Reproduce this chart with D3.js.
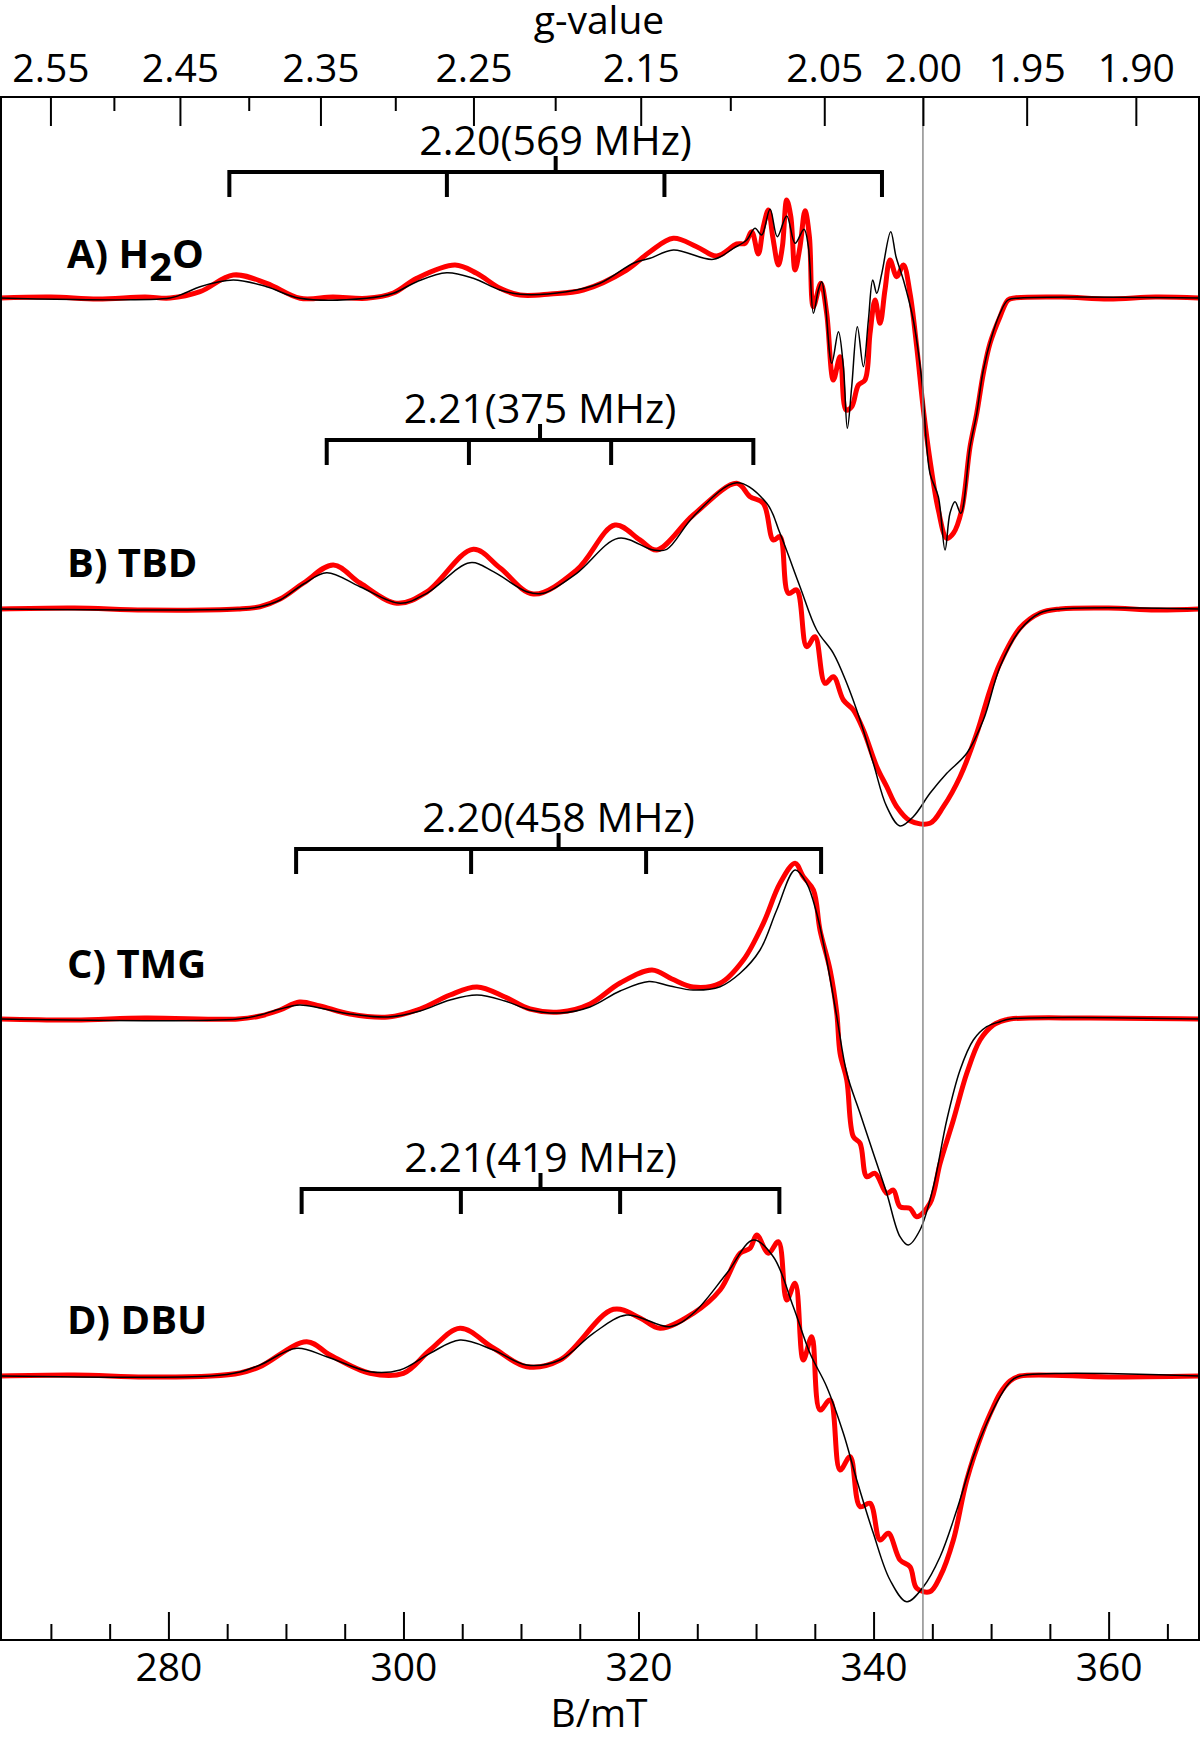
<!DOCTYPE html>
<html>
<head>
<meta charset="utf-8">
<script src="https://cdn.jsdelivr.net/npm/d3@7"></script>
<style>
  body { margin: 0; background: #fff; }
  svg { display: block; font-family: 'Open Sans', 'Noto Sans', sans-serif; }
</style>
</head>
<body>
<svg id="chart" width="1200" height="1739"></svg>
<script>
// field axis (mT) and g-value axis
const bRange = [265.67, 367.69]
const gConst = 688.4 // g * B (mT) at the used microwave frequency
const bMajor = [280, 300, 320, 340, 360]
const bMinor = [270, 275, 285, 290, 295, 305, 310, 315, 325, 330, 335, 345, 350, 355, 365]
const gMajor = [2.55, 2.45, 2.35, 2.25, 2.15, 2.05, 2.0, 1.95, 1.9]
const gMinor = [2.5, 2.4, 2.3, 2.2, 2.1]
const gMarker = 2.0

// panel names and hyperfine brackets
const panelNames = ['A', 'B', 'C', 'D']
const bases = ['H2O', 'TBD', 'TMG', 'DBU']
const gPar = ['2.20', '2.21', '2.20', '2.21']
const aPar = [569, 375, 458, 419] // MHz
const bracketCenter = [312.95, 311.62, 313.2, 311.66] // mT
const bracketSplit = [18.51, 12.1, 14.89, 13.55] // mT

// spectra: [B (mT), intensity (a.u.)], exp = red, sim = black
const h2oExp = [[265.67,0],[270,1],[274,-1],[278,1],[280.14,0],[282.69,6.3],[285.52,23],[288.36,14.7],[291.2,-0.3],[294,1],[296.87,-0.3],[299.14,5],[301.13,19.7],[304.39,33],[306.23,24.7],[308.22,9.7],[309.92,3],[312.5,4],[315.3,8],[318.99,28],[320.98,46.3],[322.96,59.7],[324.95,51.3],[326.65,42],[328.36,54],[329.06,54.7],[329.63,66.3],[330.19,44],[330.62,71.3],[331.05,88],[331.42,61.3],[331.9,33],[332.24,51.3],[332.61,98],[332.96,81.3],[333.32,28],[333.74,51.3],[334.17,87.3],[334.54,61.3],[334.88,-8.7],[335.51,14.7],[336.01,-15.3],[336.58,-82],[337.15,-58.7],[337.66,-112],[338.14,-108.7],[338.71,-87],[339.27,-82],[339.7,-35.3],[340.13,-2],[340.55,-25.3],[340.97,8],[341.4,38],[341.97,21.3],[342.54,33],[343.1,4.7],[343.67,-48.7],[344.24,-112],[344.8,-162],[345.51,-212],[346.23,-240.3],[346.79,-235.3],[347.5,-212],[348.21,-148.7],[348.78,-115.3],[349.34,-75.3],[349.91,-45.3],[350.76,-18.7],[351.44,-2],[352,0],[356,1],[360,-1],[364,1],[367.69,0]]
const h2oSim = [[265.67,0],[280.14,0],[281.41,5],[282.69,11.3],[285.52,18],[288.36,11.3],[291.2,-0.3],[296.87,-0.3],[299.14,4.7],[301.13,16.3],[303.68,25.3],[305.94,19.7],[308.22,8],[309.92,3.7],[313.89,6.3],[316.72,14.7],[319.56,34.7],[320.98,39.7],[322.96,48],[326.37,38.7],[328.07,49.7],[329.21,58],[329.91,69.7],[330.48,63],[331.19,88.7],[331.81,61.3],[332.61,82],[333.32,54.7],[334.08,68.7],[334.45,51.3],[334.88,-15.3],[335.3,8],[335.59,16.3],[335.87,-2],[336.44,-65.3],[337.01,-33.7],[337.43,-68.7],[337.77,-130.3],[338.14,-88.7],[338.62,-28.7],[339.13,-68.7],[339.56,-22],[339.93,18],[340.27,4.7],[340.7,24.7],[341.46,66.3],[341.91,41.3],[342.54,18],[343.38,-22],[344.1,-82],[344.8,-175.3],[345.51,-198.7],[346.08,-252],[346.5,-215.3],[346.93,-203.7],[347.42,-215.3],[348.21,-148.7],[348.78,-115.3],[349.34,-72],[350.05,-38.7],[350.76,-15.3],[351.44,-2],[352.46,0],[367.69,0]]

const tbdExp = [[265.67,0],[272,1],[278,-1],[285.92,0],[287.79,2.3],[289.5,10],[291.5,26],[294.03,44],[296.3,26],[299.43,5.7],[301.98,17],[305.94,59.7],[308.22,41],[311.05,15],[314.74,39],[318,84],[320.13,69],[321.55,59],[324.66,94],[328.36,125.7],[329.49,112.3],[330.62,105.7],[331.47,69],[332.04,72.3],[332.75,15.7],[333.46,19],[334.31,-37.7],[335.02,-27.7],[335.87,-74.3],[336.58,-67.7],[337.43,-91],[338.28,-101],[339.13,-121],[340.27,-157.7],[341.12,-177.7],[341.97,-197.7],[343.1,-211.7],[344.8,-214.3],[345.94,-197.7],[347.36,-167.7],[348.78,-124.3],[349.91,-81],[350.76,-54.3],[352.46,-19],[354.16,-4],[355.87,0],[360,1],[364,-1],[367.69,0]]
const tbdSim = [[265.67,0],[285.92,0],[287.79,2.3],[289.5,9],[291.5,25],[293.47,36.3],[296.3,22.3],[299.71,5.7],[301.98,15.7],[305.66,46.3],[307.65,37.3],[310.49,17.3],[311.88,15.7],[314.74,35.7],[318.28,70.7],[321.26,59],[322.4,59.7],[324.66,92.3],[328.36,126.3],[330.91,105.7],[332.04,75.7],[333.74,22.3],[335.16,-21],[336.58,-44.3],[337.72,-74.3],[338.85,-111],[339.98,-154.3],[341.12,-197.7],[342.25,-217],[343.38,-207.7],[344.8,-184.3],[346.23,-164.3],[347.93,-144.3],[349.34,-111],[350.76,-57.7],[352.46,-21],[354.16,-4],[355.87,0],[367.69,0]]

const tmgExp = [[265.67,0],[272,-1],[278,1],[285.92,0],[287.79,3],[289.5,9],[291.15,17],[292.9,13],[295.45,5],[298.69,2],[301.41,10],[303.96,24],[306.26,32],[308.64,22],[310.77,10],[313.32,7],[315.87,15],[318.43,36],[321.15,49],[322.85,40],[324.64,32],[326.94,35.7],[328.92,59],[330.62,95.7],[332.04,135.7],[333.32,155.7],[334.02,142.3],[334.88,129],[335.44,89],[336.3,49],[336.87,5.7],[337.15,-34.3],[337.72,-61],[338.28,-117.7],[338.85,-124.3],[339.42,-157.7],[340.13,-154.3],[341.12,-174.3],[341.68,-171],[342.25,-187.7],[343.1,-189.3],[343.67,-197.7],[344.8,-184.3],[345.66,-144.3],[346.79,-101],[347.93,-54.3],[349.06,-21],[350.19,-6],[350.76,-2.7],[351.61,0],[358,1],[367.69,0]]
const tmgSim = [[265.67,0],[285.92,0],[287.79,4],[289.5,10],[291.15,14],[292.9,11],[295.45,5],[298.69,2],[301.41,8],[303.96,19],[306.26,24],[308.64,18],[310.77,9],[313.32,6],[315.87,12],[318.43,28],[320.89,37.5],[322.68,33],[324.64,29],[326.94,32.3],[328.64,45.7],[330.34,69],[331.76,109],[333.32,149],[334.31,135.7],[335.16,105.7],[336.01,59],[336.87,2.3],[337.72,-54.3],[338.85,-94.3],[339.98,-134.3],[341.12,-174.3],[342.25,-217.7],[342.96,-226],[343.95,-211],[345.09,-167.7],[346.23,-101],[347.36,-51],[348.49,-21],[349.63,-7.7],[350.76,-2.7],[351.61,0],[367.69,0]]

const dbuExp = [[265.67,0],[272,1],[278,-1],[283.62,0],[286.09,3],[287.79,9.3],[291.77,34.3],[293.75,21],[297.15,2.7],[299.99,2.7],[302.26,26],[304.81,47.7],[307.65,28],[310.49,9.3],[313.32,16],[317.86,66.7],[320.13,58],[321.83,47.7],[324.66,62.7],[326.94,86],[328.64,122.7],[329.49,127.7],[330.06,141],[331.05,122.7],[331.9,134.3],[332.61,76],[333.32,92.7],[334.02,16],[334.74,39.3],[335.44,-34],[336.3,-24],[337.15,-94],[338,-80.7],[338.85,-130.7],[339.7,-127.3],[340.55,-164],[341.26,-157.3],[342.25,-184],[343.1,-190.7],[343.67,-212.3],[344.8,-215.7],[345.66,-200.7],[346.79,-164],[347.93,-104],[349.34,-54],[350.19,-30.7],[350.76,-17.3],[351.61,-5],[352.46,0],[360,-1],[367.69,0]]
const dbuSim = [[265.67,0],[283.62,0],[286.09,4],[287.79,11],[290.92,27.7],[293.47,19.3],[297.15,4.3],[299.71,6],[302.26,22.7],[304.81,36],[307.65,26],[310.49,11],[313.32,16],[316.15,42.7],[318.99,61],[322.68,49.3],[324.66,62.7],[327.51,102.7],[329.77,136],[331.47,119.3],[333.17,69.3],[334.59,22.7],[336.01,-10.7],[337.43,-57.3],[338.57,-104],[339.98,-157.3],[341.4,-204],[342.82,-225.7],[344.24,-210.7],[345.66,-180.7],[347.08,-134],[348.49,-80.7],[349.63,-47.3],[350.76,-20.7],[351.61,-6],[352.46,0],[367.69,0]]

const expSeries = [h2oExp, tbdExp, tmgExp, dbuExp]
const simSeries = [h2oSim, tbdSim, tmgSim, dbuSim]

// layout
const frame = { top: 97, bottom: 1640, left: 1, right: 1199 }
const baselineY = [298, 609, 1019, 1376]
const bracketY = [172, 440, 849, 1189]
const labelY = [268, 577, 978, 1334]
const font = "'Open Sans', 'Noto Sans', sans-serif"

const svg = d3.select('#chart')
const x = d3.scaleLinear().domain(bRange).range([0, 1199])

// spectra
panelNames.forEach((name, i) => {
	const y = d3.scaleLinear().domain([0, 100]).range([baselineY[i], baselineY[i] - 100])
	const line = d3.line()
		.x(d => x(d[0]))
		.y(d => y(d[1]))
		.curve(d3.curveCatmullRom.alpha(0.5))

	svg.append('path')
		.datum(expSeries[i])
		.attr('d', line)
		.attr('fill', 'none')
		.attr('stroke', '#ff0000')
		.attr('stroke-width', 5)
		.attr('stroke-linejoin', 'round')

	svg.append('path')
		.datum(simSeries[i])
		.attr('d', line)
		.attr('fill', 'none')
		.attr('stroke', '#000')
		.attr('stroke-width', 1.5)

	// hyperfine bracket
	const ticks = [-1.5, -0.5, 0.5, 1.5].map(k => x(bracketCenter[i] + k * bracketSplit[i]))
	const by = bracketY[i]
	const br = svg.append('g').attr('stroke', '#000').attr('stroke-width', 4).attr('fill', 'none')
	br.append('path').attr('d', `M${ticks[0]},${by + 25}V${by}H${ticks[3]}V${by + 25}`)
	br.append('line').attr('x1', ticks[1]).attr('x2', ticks[1]).attr('y1', by).attr('y2', by + 25)
	br.append('line').attr('x1', ticks[2]).attr('x2', ticks[2]).attr('y1', by).attr('y2', by + 25)
	br.append('line').attr('x1', x(bracketCenter[i])).attr('x2', x(bracketCenter[i])).attr('y1', by).attr('y2', by - 16)

	svg.append('text')
		.attr('x', x(bracketCenter[i]))
		.attr('y', by - 17)
		.attr('text-anchor', 'middle')
		.style('font-size', '41px')
		.text(`${gPar[i]}(${aPar[i]} MHz)`)

	// panel label
	const t = svg.append('text')
		.attr('x', 67)
		.attr('y', labelY[i])
		.style('font-size', '40px')
		.style('font-weight', 'bold')
	const m = bases[i].match(/^([A-Z]+)(\d)([A-Z]*)$/)
	if (m) {
		t.append('tspan').text(`${name}) ${m[1]}`)
		t.append('tspan').attr('dy', 13).text(m[2])
		t.append('tspan').attr('dy', -13).text(m[3])
	} else {
		t.text(`${name}) ${bases[i]}`)
	}
})

// g = 2.00 marker
svg.append('line')
	.attr('x1', x(gConst / gMarker)).attr('x2', x(gConst / gMarker))
	.attr('y1', frame.top).attr('y2', frame.bottom)
	.attr('stroke', '#8c8c8c')
	.attr('stroke-width', 1.5)

// frame
svg.append('rect')
	.attr('x', frame.left).attr('y', frame.top)
	.attr('width', frame.right - frame.left).attr('height', frame.bottom - frame.top)
	.attr('fill', 'none').attr('stroke', '#000').attr('stroke-width', 2)

// bottom axis (field)
svg.append('g')
	.attr('transform', `translate(0,${frame.bottom})`)
	.call(d3.axisBottom(x).tickValues(bMajor).tickSizeInner(-28).tickSizeOuter(0).tickPadding(13).tickFormat(d3.format('d')))
svg.append('g')
	.attr('transform', `translate(0,${frame.bottom})`)
	.call(d3.axisBottom(x).tickValues(bMinor).tickSizeInner(-16).tickSizeOuter(0).tickFormat(''))

// top axis (g-value)
svg.append('g')
	.attr('transform', `translate(0,${frame.top})`)
	.call(d3.axisTop(x).tickValues(gMajor.map(g => gConst / g)).tickSizeInner(-29).tickSizeOuter(0).tickPadding(15)
		.tickFormat(d => (gConst / d).toFixed(2)))
svg.append('g')
	.attr('transform', `translate(0,${frame.top})`)
	.call(d3.axisTop(x).tickValues(gMinor.map(g => gConst / g)).tickSizeInner(-14).tickSizeOuter(0).tickFormat(''))

svg.selectAll('.domain').remove()
svg.selectAll('.tick line').attr('stroke-width', 2)
svg.selectAll('.tick text').attr('font-family', font).attr('font-size', 39).attr('fill', '#000')

svg.append('text')
	.attr('x', 599).attr('y', 34)
	.attr('text-anchor', 'middle')
	.style('font-size', '39px')
	.text('g-value')

svg.append('text')
	.attr('x', 599).attr('y', 1727)
	.attr('text-anchor', 'middle')
	.style('font-size', '39px')
	.text('B/mT')
</script>
</body>
</html>
